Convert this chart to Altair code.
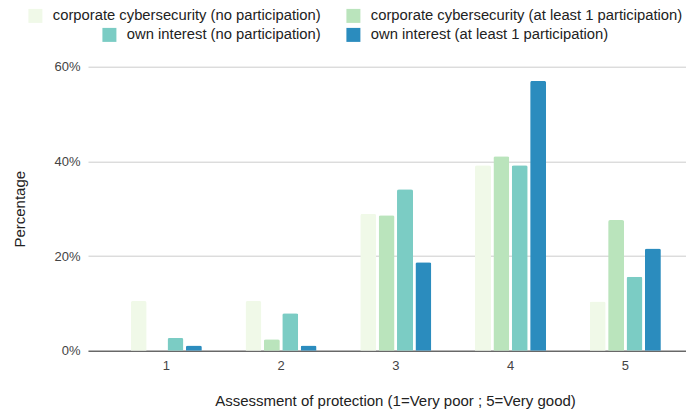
import altair as alt
import pandas as pd

ratings = ["1", "2", "3", "4", "5"]
series = [
    "corporate cybersecurity (no participation)",
    "corporate cybersecurity (at least 1 participation)",
    "own interest (no participation)",
    "own interest (at least 1 participation)",
]
groups = ["corporate", "corporate", "own", "own"]
corp_no = [10.5, 10.5, 28.9, 39.2, 10.4]
corp_yes = [0.0, 2.4, 28.6, 41.1, 27.6]
own_no = [2.7, 7.9, 34.1, 39.2, 15.6]
own_yes = [1.1, 1.1, 18.7, 57.0, 21.6]
colors = ["#f0f9e8", "#bae4bc", "#7bccc4", "#2b8cbe"]

values = [corp_no, corp_yes, own_no, own_yes]
rows = []
for s, g, vals in zip(series, groups, values):
    for r, v in zip(ratings, vals):
        rows.append({"rating": r, "series": s, "group": g, "value": v / 100.0})
df = pd.DataFrame(rows)

FONT = "Liberation Sans"

base = alt.Chart(df).encode(
    x=alt.X(
        "rating:N",
        sort=ratings,
        scale=alt.Scale(paddingInner=0.38, paddingOuter=0.2955, align=0.63),
        axis=alt.Axis(
            title="Assessment of protection (1=Very poor ; 5=Very good)",
            titleX=307,
            labelAngle=0,
            ticks=False,
            labelPadding=9,
            titlePadding=21,
            domainColor="#333333",
            domainWidth=1,
            grid=False,
            labelFont=FONT,
            labelFontSize=13,
            labelColor="#444444",
            titleFont=FONT,
            titleFontSize=15,
            titleFontWeight="normal",
            titleColor="#222222",
        ),
    ),
    xOffset=alt.XOffset(
        "series:N",
        sort=series,
        scale=alt.Scale(domain=series, paddingInner=0.13, paddingOuter=0),
    ),
    y=alt.Y(
        "value:Q",
        scale=alt.Scale(domain=[0, 0.6], nice=False),
        axis=alt.Axis(
            title="Percentage",
            values=[0, 0.2, 0.4, 0.6],
            format=".0%",
            domain=False,
            ticks=False,
            labelPadding=8,
            titlePadding=26,
            gridColor="#cccccc",
            gridWidth=1,
            labelFont=FONT,
            labelFontSize=13,
            labelColor="#444444",
            titleFont=FONT,
            titleFontSize=15,
            titleFontWeight="normal",
            titleColor="#222222",
        ),
    ),
)

def legend(x, y):
    return alt.Legend(
        orient="none",
        legendX=x,
        legendY=y,
        direction="horizontal",
        title=None,
        symbolType="square",
        symbolSize=196,
        symbolStrokeWidth=0,
        symbolOpacity=1,
        labelFont=FONT,
        labelFontSize=14.8,
        labelColor="#222222",
        labelOffset=10,
        columnPadding=25,
        padding=0,
        labelLimit=400,
    )

corp = base.transform_filter(alt.datum.group == "corporate").mark_bar(
    cornerRadiusTopLeft=2, cornerRadiusTopRight=2
).encode(
    color=alt.Color(
        "series:N",
        sort=series[:2],
        scale=alt.Scale(domain=series[:2], range=colors[:2]),
        legend=legend(-60, -58.5),
    )
)

own = base.transform_filter(alt.datum.group == "own").mark_bar(
    cornerRadiusTopLeft=2, cornerRadiusTopRight=2
).encode(
    color=alt.Color(
        "series:N",
        sort=series[2:],
        scale=alt.Scale(domain=series[2:], range=colors[2:]),
        legend=legend(14, -39.5),
    )
)

chart = (
    alt.layer(corp, own)
    .resolve_scale(color="independent")
    .properties(
        width=598,
        height=284,
        autosize=alt.AutoSizeParams(type="none"),
        padding={"left": 80, "top": 58.7, "right": 0, "bottom": 61},
    )
    .configure_view(strokeWidth=0)
)

chart.save("out.html", embed_options={"renderer": "svg", "actions": False})
